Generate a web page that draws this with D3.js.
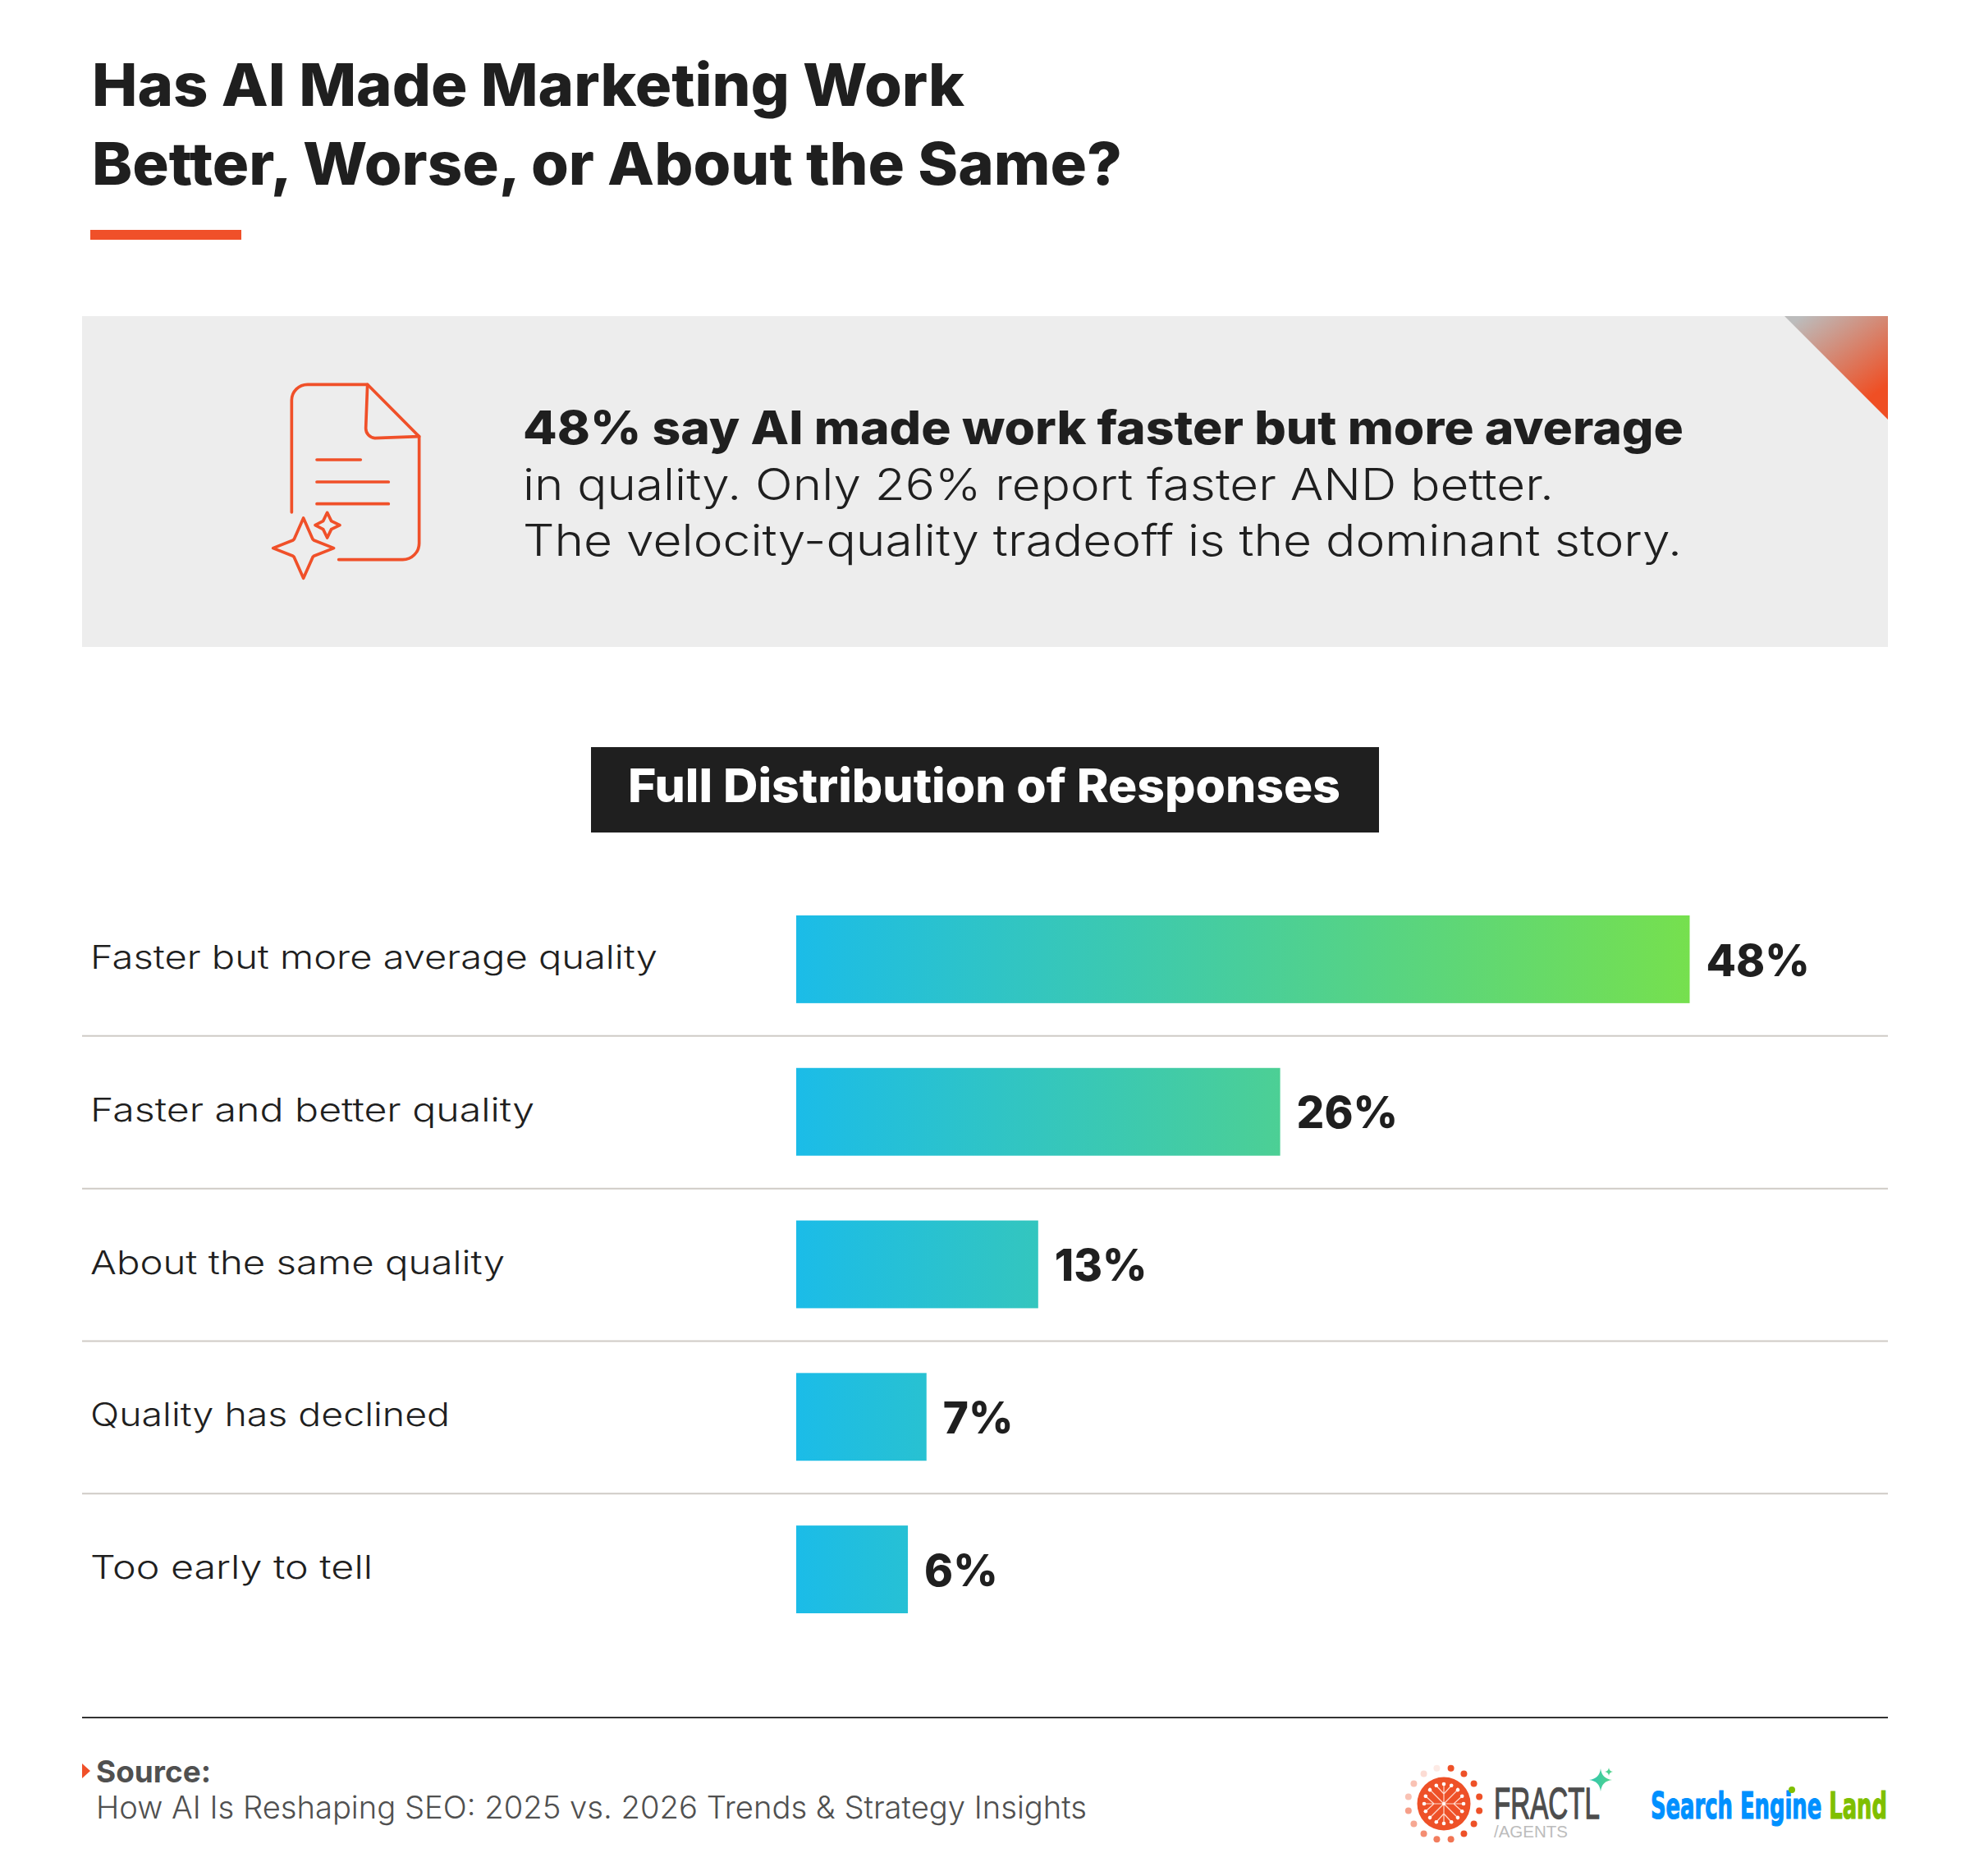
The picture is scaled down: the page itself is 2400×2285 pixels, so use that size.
<!DOCTYPE html>
<html>
<head>
<meta charset="utf-8">
<script src="https://cdn.jsdelivr.net/npm/d3@7"></script>
<style>
html,body{margin:0;padding:0;background:#fff}
svg{display:block}
</style>
</head>
<body>
<svg id="chart" width="2400" height="2285"></svg>
<script>
// Survey responses
const categories = ["Faster but more average quality","Faster and better quality","About the same quality","Quality has declined","Too early to tell"];
const shares = [48,26,13,7,6];
const titleLines = ["Has AI Made Marketing Work","Better, Worse, or About the Same?"];
const calloutBold = "48% say AI made work faster but more average";
const calloutLines = ["in quality. Only 26% report faster AND better.","The velocity-quality tradeoff is the dominant story."];
const sectionHeading = "Full Distribution of Responses";
const sourceHead = "Source:";
const sourceText = "How AI Is Reshaping SEO: 2025 vs. 2026 Trends & Strategy Insights";

const ORANGE = "#f05029", INK = "#1f1f1f";
const svg = d3.select("#chart");
const defs = svg.append("defs");

// Shared bar gradient: colour depends on absolute position along the value axis
const x = d3.scaleLinear().domain([0,48]).range([970,2058.5]);
const y = d3.scaleBand().domain(categories).range([1115,1965]).paddingInner(79/186);

const barGrad = defs.append("linearGradient").attr("id","barGrad")
  .attr("gradientUnits","userSpaceOnUse").attr("x1",x(0)).attr("x2",x(48)).attr("y1",0).attr("y2",0);
barGrad.append("stop").attr("offset",0).attr("stop-color","#1bbce8");
barGrad.append("stop").attr("offset",1).attr("stop-color","#76e04e");

const cornerGrad = defs.append("linearGradient").attr("id","cornerGrad")
  .attr("gradientUnits","userSpaceOnUse").attr("x1",2195).attr("y1",385).attr("x2",2270).attr("y2",490);
cornerGrad.append("stop").attr("offset",0).attr("stop-color","#bcbcbc");
cornerGrad.append("stop").attr("offset",1).attr("stop-color","#ef4f24");

const sparkGrad = defs.append("linearGradient").attr("id","sparkGrad")
  .attr("x1",0).attr("x2",1).attr("y1",0).attr("y2",0);
sparkGrad.append("stop").attr("offset",0).attr("stop-color","#2fc5b0");
sparkGrad.append("stop").attr("offset",1).attr("stop-color","#55d58a");

const text = (g,s,px,py,opts) => {
  const t = g.append("text").attr("x",px).attr("y",py).text(s)
    .attr("font-family",opts.family||"Inter").attr("font-size",opts.size)
    .attr("font-weight",opts.weight||400).attr("fill",opts.fill||INK);
  if(opts.width) t.attr("textLength",opts.width).attr("lengthAdjust","spacingAndGlyphs");
  return t;
};

// Headline and accent rule
const titleWidths = [1063,1255], titleBase = [129,225];
titleLines.forEach((l,i)=>text(svg,l,112,titleBase[i],{size:72,weight:800,width:titleWidths[i]}));
svg.append("rect").attr("x",110).attr("y",280).attr("width",184).attr("height",12).attr("fill",ORANGE);

// Callout panel
svg.append("rect").attr("x",100).attr("y",385).attr("width",2200).attr("height",403).attr("fill","#ededed");
svg.append("path").attr("d","M2174,385H2300V511Z").attr("fill","url(#cornerGrad)");

// Document icon with sparkles
const icon = svg.append("g").attr("transform","translate(280,430) scale(0.3333)")
  .attr("fill","none").attr("stroke",ORANGE).attr("stroke-width",11)
  .attr("stroke-linecap","round").attr("stroke-linejoin","round");
icon.append("path").attr("d","M226,582V172A58,58 0 0 1 284,115H503L692,305V695A60,60 0 0 1 632,755H398");
icon.append("path").attr("d","M503,115L497,275A36,36 0 0 0 530,311L692,305");
icon.append("path").attr("d","M318,390H478M318,471H580M318,551H580");
icon.append("path").attr("d","M269,603L303,680Q305,682 307,684L380,713L307,742Q305,744 303,746L269,823L235,746Q233,744 231,742L158,713L231,684Q233,682 235,680Z");
icon.append("path").attr("d","M356,583L371,614L402,629L371,644L356,675L341,644L312,629L341,614Z");

text(svg,calloutBold,637,541,{size:56,weight:800,width:1414});
const calloutWidths=[1256,1412], calloutBase=[609,677];
calloutLines.forEach((l,i)=>text(svg,l,637,calloutBase[i],{size:53,weight:300,width:calloutWidths[i]}));

// Section heading
svg.append("rect").attr("x",720).attr("y",910).attr("width",960).attr("height",104).attr("fill",INK);
text(svg,sectionHeading,765,977,{size:56,weight:800,fill:"#fff",width:868});

// Bars, labels and row separators
const labelWidths=[691,541,505,438,344];
const rows = svg.append("g").selectAll("g").data(categories).join("g");
rows.append("rect")
  .attr("x",x(0)).attr("y",d=>y(d)).attr("height",y.bandwidth())
  .attr("width",(d,i)=>x(shares[i])-x(0)).attr("fill","url(#barGrad)");
rows.append("text")
  .attr("x",110).attr("y",d=>y(d)+65).text(d=>d)
  .attr("font-family","Inter").attr("font-size",40).attr("font-weight",300).attr("fill",INK)
  .attr("textLength",(d,i)=>labelWidths[i]).attr("lengthAdjust","spacingAndGlyphs");
rows.append("text")
  .attr("x",(d,i)=>x(shares[i])+20).attr("y",d=>y(d)+73.5).text((d,i)=>shares[i]+"%")
  .attr("font-family","Inter").attr("font-size",53).attr("font-weight",800).attr("fill",INK);
rows.filter((d,i)=>i<categories.length-1).append("line")
  .attr("x1",100).attr("x2",2300)
  .attr("y1",d=>y(d)+y.bandwidth()+40).attr("y2",d=>y(d)+y.bandwidth()+40)
  .attr("stroke","#cfcbc6").attr("stroke-width",2);

// Footer
svg.append("line").attr("x1",100).attr("x2",2300).attr("y1",2092).attr("y2",2092).attr("stroke","#333").attr("stroke-width",2);
svg.append("path").attr("d","M100,2148L110,2157L100,2166Z").attr("fill",ORANGE);
text(svg,sourceHead,117,2171,{size:37,weight:700,fill:"#505050",width:140});
text(svg,sourceText,117,2215,{size:38,weight:300,fill:"#505050",width:1207});

// Fractl logo: ring of fading dots around a snowflake disc
const logo = svg.append("g").attr("transform","translate(1759,2197)");
logo.append("circle").attr("r",32.5).attr("fill","#ee5128");
const dotOpacity=[1,1,1,1,1,1,1,.8,.75,.65,.5,.55,.35,.35,.2,.12];
dotOpacity.forEach((o,i)=>{
  const a=(i+0.5)*Math.PI/8-Math.PI/2;
  logo.append("circle").attr("cx",44*Math.cos(a)).attr("cy",44*Math.sin(a)).attr("r",4)
    .attr("fill","#ee5128").attr("opacity",o);
});
d3.range(4).forEach(i=>{
  const axial=logo.append("g").attr("transform",`rotate(${i*90})`);
  axial.append("path").attr("d","M0,0V-24M0,-12L-9,-22M0,-12L9,-22").attr("stroke","#ffd9cc").attr("stroke-width",1.2).attr("fill","none");
  axial.append("circle").attr("cy",-24).attr("r",2.3).attr("fill","#fff");
  axial.append("circle").attr("cx",-9.2).attr("cy",-22.2).attr("r",2.3).attr("fill","#fff");
  axial.append("circle").attr("cx",9.2).attr("cy",-22.2).attr("r",2.3).attr("fill","#fff");
  const diag=logo.append("g").attr("transform",`rotate(${i*90+45})`);
  diag.append("path").attr("d","M0,0V-24").attr("stroke","#ffd9cc").attr("stroke-width",1.2);
  diag.append("circle").attr("cy",-24).attr("r",2.3).attr("fill","#fff");
});
logo.append("circle").attr("r",2).attr("fill","#fff");

const wordmark = svg.append("text").attr("x",1820).attr("y",2215).attr("font-family","Liberation Sans");
wordmark.append("tspan").text("FRACTL").attr("font-size",53).attr("font-weight",400)
  .attr("fill","#4d4d4d").attr("stroke","#4d4d4d").attr("stroke-width",1.3)
  .attr("textLength",129).attr("lengthAdjust","spacingAndGlyphs");
wordmark.append("tspan").text("/AGENTS").attr("x",1820).attr("dy",23).attr("font-size",20)
  .attr("fill","#bcbcbc").attr("textLength",90).attr("lengthAdjust","spacingAndGlyphs");

const spark=(cx,cy,r)=>`M${cx},${cy-r}Q${cx+r*.1},${cy-r*.1} ${cx+r},${cy}Q${cx+r*.1},${cy+r*.1} ${cx},${cy+r}Q${cx-r*.1},${cy+r*.1} ${cx-r},${cy}Q${cx-r*.1},${cy-r*.1} ${cx},${cy-r}Z`;
svg.append("path").attr("d",spark(1950,2168,14)+spark(1960,2158,5)).attr("fill","url(#sparkGrad)");

// Search Engine Land wordmark
const sel = svg.append("text").attr("x",2011).attr("y",2215)
  .attr("font-family","DejaVu Sans Condensed").attr("font-size",44).attr("font-weight",700)
  .attr("fill","#0090ff").attr("stroke","#0090ff").attr("stroke-width",1.2)
  .attr("textLength",288).attr("lengthAdjust","spacingAndGlyphs");
sel.append("tspan").text("Search Engine ");
sel.append("tspan").text("Land").attr("fill","#7fbf00").attr("stroke","#7fbf00");
svg.append("circle").attr("cx",2183).attr("cy",2180).attr("r",4).attr("fill","#7fbf00");
</script>
</body>
</html>
